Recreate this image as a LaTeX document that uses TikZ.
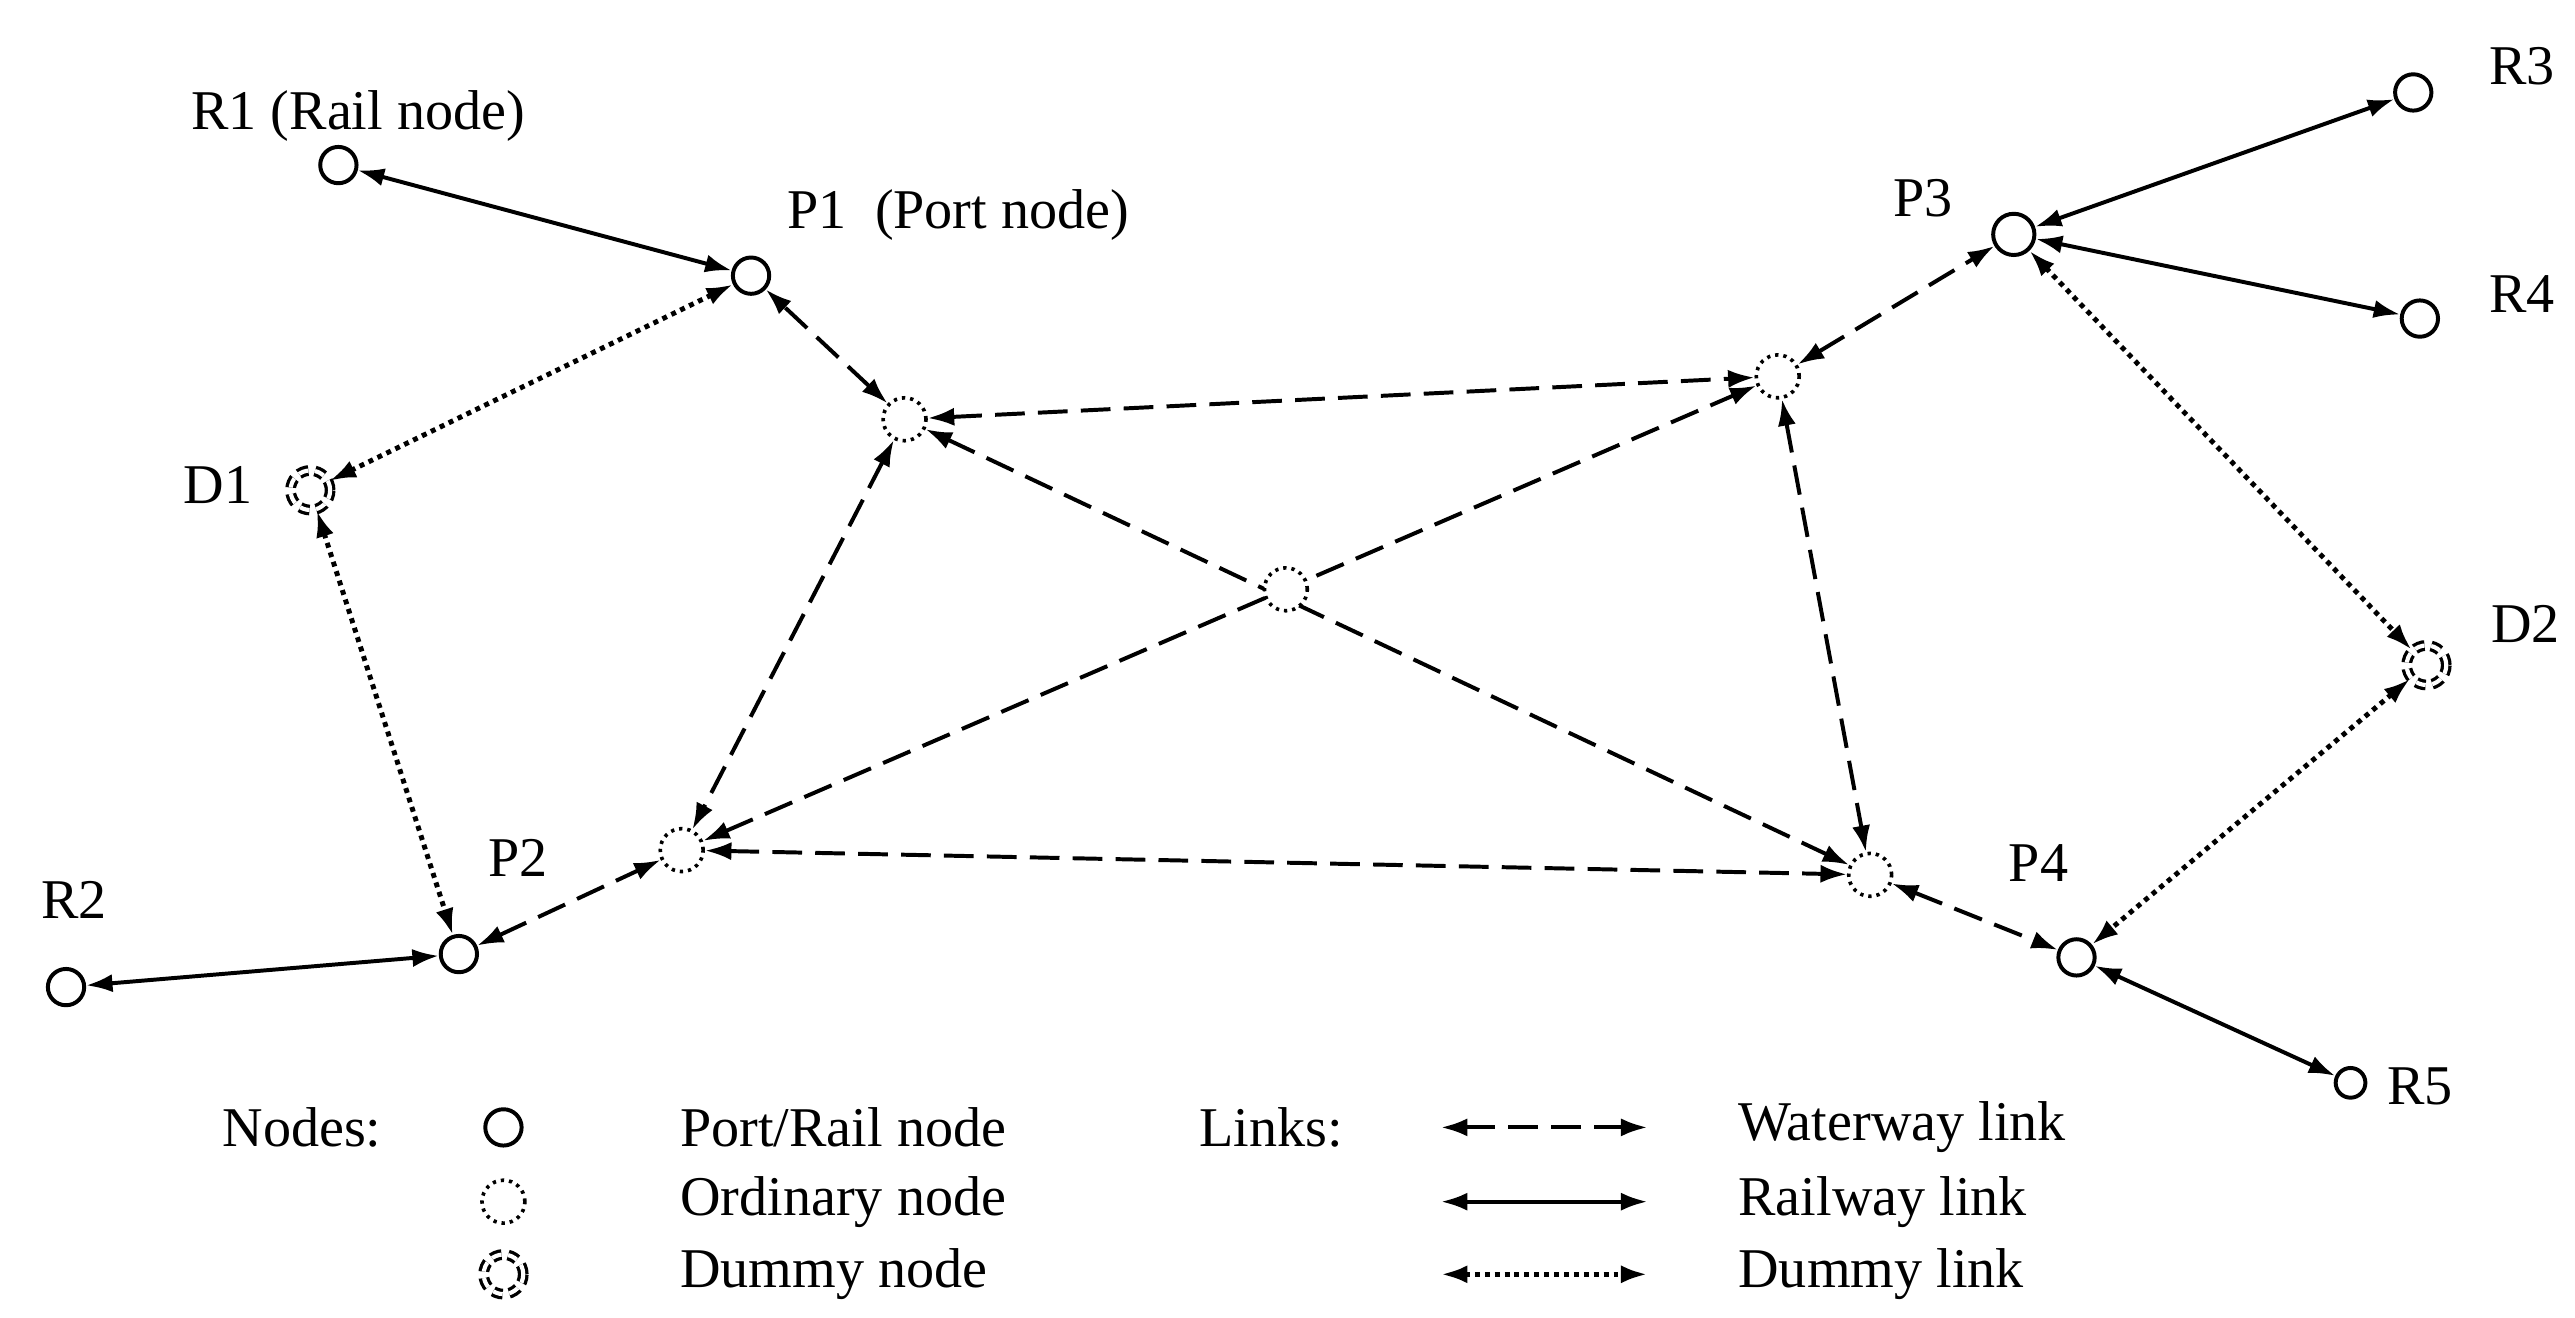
\documentclass[tikz,border=0pt]{standalone}
\usepackage{fontspec}
\setmainfont{Liberation Serif}
\usetikzlibrary{arrows.meta}
\begin{document}
\begin{tikzpicture}[x=1pt,y=-1pt,
  every node/.style={font=\fontsize{34}{38}\selectfont},
  pr/.style={circle,draw,line width=2.4pt,minimum size=22pt,inner sep=0pt},
  ord/.style={circle,draw,line width=2.2pt,dash pattern=on 2pt off 3pt,minimum size=26pt,inner sep=0pt,fill=white},
  dum/.style={circle,draw,line width=2pt,double distance=2.5pt,dash pattern=on 6pt off 4pt,minimum size=24pt,inner sep=0pt},
  lk/.style={line width=2.4pt,{Latex[length=16pt,width=11pt]}-{Latex[length=16pt,width=11pt]}},
  rail/.style={lk},
  water/.style={lk,dash pattern=on 18pt off 8pt},
  dmy/.style={lk,line width=3pt,dash pattern=on 3pt off 3pt},
  lab/.style={inner sep=0pt}]
\useasboundingbox (0,0) rectangle (1560,798);
\node[pr] (R1) at (205,100) {};
\node[pr] (P1) at (455,167) {};
\node[dum] (D1) at (188,297) {};
\node[pr] (P2) at (278,578) {};
\node[pr] (R2) at (40,598) {};
\node[pr,minimum size=25pt] (P3) at (1220,142) {};
\node[pr] (R3) at (1462,56) {};
\node[pr] (R4) at (1466,193) {};
\node[dum] (D2) at (1470,403) {};
\node[pr] (P4) at (1258,580) {};
\node[pr,minimum size=18pt] (R5) at (1424,656) {};
\coordinate (o1) at (548,254);
\coordinate (o2) at (413,515);
\coordinate (o4) at (1077,228);
\coordinate (o5) at (1133,530);
\node[ord] (O1) at (o1) {};
\node[ord] (O2) at (o2) {};
\node[ord] (O4) at (o4) {};
\node[ord] (O5) at (o5) {};
\draw[rail] (R1) -- (P1);
\draw[dmy] (P1) -- (D1);
\draw[dmy] (D1) -- (P2);
\draw[rail] (R2) -- (P2);
\draw[water] (P2) -- (O2);
\draw[water] (O1) -- (P1);
\draw[water] (O1) -- (O2);
\draw[water] (O1) -- (O4);
\draw[water] (O1) -- (O5);
\draw[water] (O2) -- (O4);
\draw[water] (O2) -- (O5);
\draw[water] (O4) -- (P3);
\draw[water] (O4) -- (O5);
\draw[water] (O5) -- (P4);
\draw[rail] (P3) -- (R3);
\draw[rail] (P3) -- (R4);
\draw[dmy] (P3) -- (D2);
\draw[dmy] (D2) -- (P4);
\draw[rail] (P4) -- (R5);
\node[ord] (O3) at (779,357) {};
\node[lab] (tR1) at (217,70) {R1 (Rail node)};
\node[lab,anchor=west] (tP1) at (477,130) {P1\enspace(Port node)};
\node[lab] (tD1) at (132,294) {D1};
\node[lab] (tP2) at (314,520) {P2};
\node[lab] (tR2) at (45,545) {R2};
\node[lab] (tP3) at (1165,120) {P3};
\node[lab] (tR3) at (1528,40) {R3};
\node[lab] (tR4) at (1528,178) {R4};
\node[lab] (tD2) at (1530,378) {D2};
\node[lab] (tP4) at (1235,523) {P4};
\node[lab] (tR5) at (1466,658) {R5};
% legend
\node[lab] (ln) at (183,683) {Nodes:};
\node[pr] (l1) at (305,683) {};
\node[ord] (l2) at (305,728) {};
\node[dum] (l3) at (305,772) {};
\node[lab,anchor=west] (t1) at (412,683) {Port/Rail node};
\node[lab,anchor=west] (t2) at (412,728) {Ordinary node};
\node[lab,anchor=west] (t3) at (412,772) {Dummy node};
\node[lab] (ll) at (770,683) {Links:};
\coordinate (a1) at (873,683); \coordinate (b1) at (998,683);
\coordinate (a2) at (873,728); \coordinate (b2) at (998,728);
\coordinate (a3) at (873,772); \coordinate (b3) at (998,772);
\draw[water] (a1) -- (b1);
\draw[rail] (a2) -- (b2);
\draw[dmy] (a3) -- (b3);
\node[lab,anchor=west] (u1) at (1053,683) {Waterway link};
\node[lab,anchor=west] (u2) at (1053,728) {Railway link};
\node[lab,anchor=west] (u3) at (1053,772) {Dummy link};
\end{tikzpicture}
\end{document}
